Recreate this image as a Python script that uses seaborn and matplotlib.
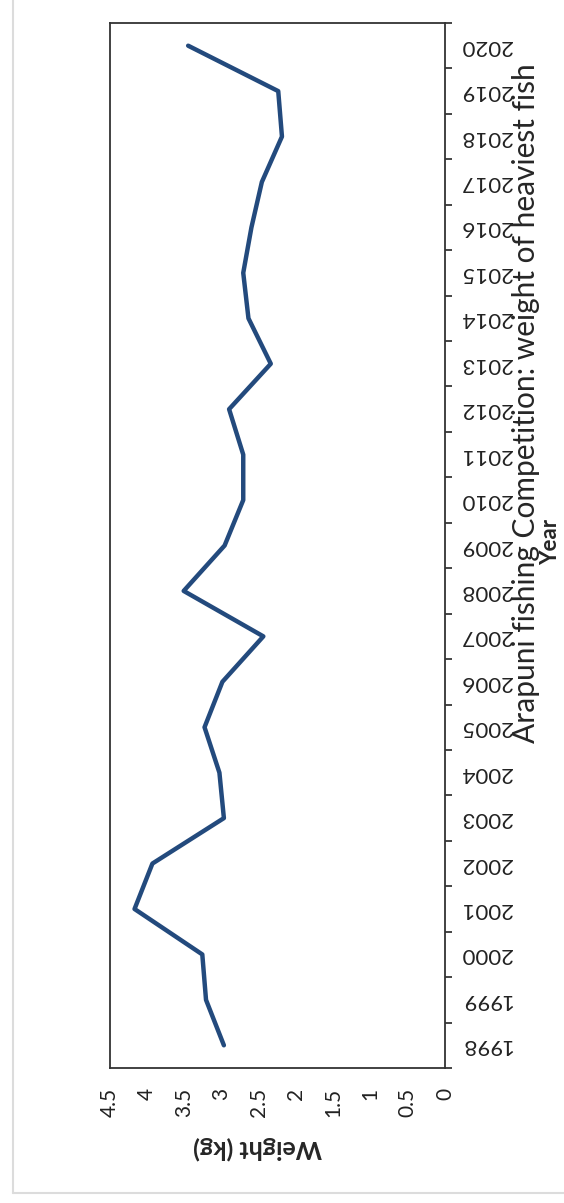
import numpy as np
import pandas as pd
import matplotlib
matplotlib.use('Agg')
import matplotlib.pyplot as plt
from matplotlib.lines import Line2D
import seaborn as sns

# values
years = list(range(1998, 2021))
weights = [2.97, 3.21, 3.26, 4.17, 3.93, 2.97, 3.03, 3.23, 2.99, 2.44, 3.51, 2.96,
           2.71, 2.71, 2.90, 2.34, 2.64, 2.71, 2.60, 2.46, 2.19, 2.24, 3.45]
weight_ticks = [0, 0.5, 1, 1.5, 2, 2.5, 3, 3.5, 4, 4.5]
weight_tick_labels = ['0', '0.5', '1', '1.5', '2', '2.5', '3', '3.5', '4', '4.5']

title = 'Arapuni fishing Competition: weight of heaviest fish'

sns.set_style('white')
plt.rcParams['font.family'] = ['Lato', 'DejaVu Sans']

df = pd.DataFrame({'year': years, 'weight': weights})

fig = plt.figure(figsize=(5.64, 12.03), dpi=100)
ax = fig.add_axes([0.195, 0.1122, 0.594, 0.8687])

# the picture is the usual line chart turned on its side
sns.lineplot(data=df, x='weight', y='year', orient='y', color='#234a7d',
             linewidth=3.2, ax=ax)

ax.set_xlim(4.5, 0)
ax.set_ylim(years[0] - 0.5, years[-1] + 0.5)
ax.set_xticks(weight_ticks)
ax.set_xticklabels(weight_tick_labels, rotation=90, fontsize=15)
ax.tick_params(axis='x', direction='out', length=5, width=1.2, pad=9, colors='#222222')

ax.yaxis.tick_right()
ax.set_yticks(years)
ax.set_yticklabels([str(y) for y in years], rotation=180, fontsize=16, ha='left', va='center')
ax.set_yticks(np.arange(years[0] - 0.5, years[-1] + 1, 1.0), minor=True)
ax.tick_params(axis='y', which='major', length=0, pad=11, colors='#222222')
ax.tick_params(axis='y', which='minor', direction='out', length=5, width=1.2, right=True, left=False)

ax.set_xlabel('')
ax.set_ylabel('')
for s in ax.spines.values():
    s.set_color('#333333')
    s.set_linewidth(1.3)

fig.text(258 / 564, 1 - 1148 / 1203, 'Weight (kg)', rotation=180, fontsize=18,
         fontweight='bold', ha='center', va='center')
fig.text(551 / 564, 1 - 542 / 1203, 'Year', rotation=90, fontsize=16,
         fontweight='bold', ha='center', va='center')
fig.text(526 / 564, 1 - 403 / 1203, title, rotation=90, fontsize=21.5,
         ha='center', va='center')

# faint edges of the scanned page
fig.lines.append(Line2D([13 / 564, 13 / 564], [10 / 1203, 1.0], transform=fig.transFigure,
                        color='#dcdcdc', linewidth=1.5))
fig.lines.append(Line2D([13 / 564, 1.0], [10 / 1203, 10 / 1203], transform=fig.transFigure,
                        color='#dcdcdc', linewidth=1.5))

fig.savefig('out.png', dpi=100)
